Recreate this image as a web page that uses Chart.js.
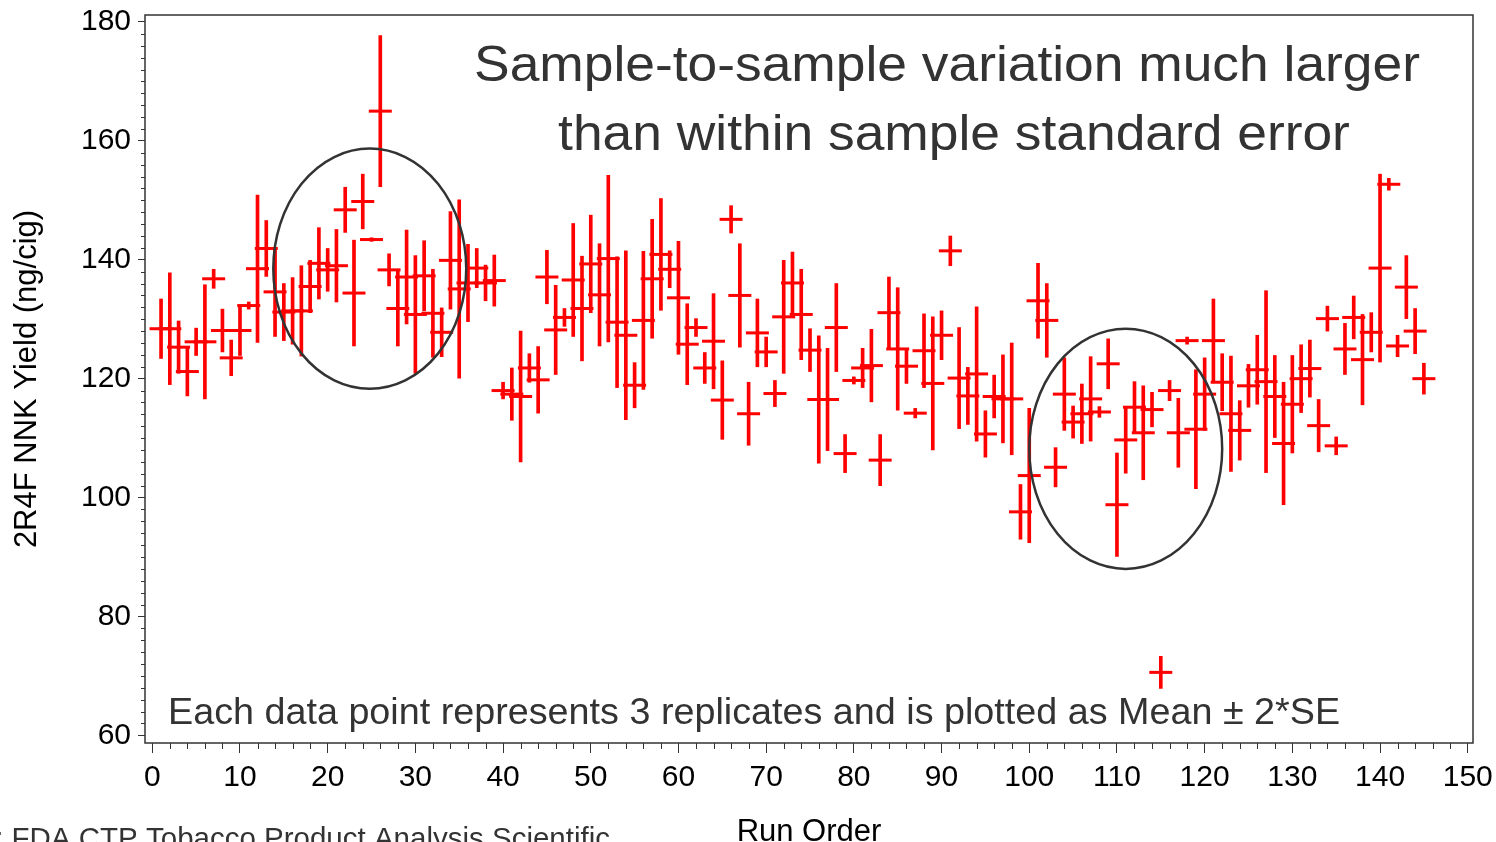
<!DOCTYPE html>
<html>
<head>
<meta charset="utf-8">
<script src="https://cdn.jsdelivr.net/npm/chart.js@4.4.1/dist/chart.umd.min.js"></script>
<style>
  html, body { margin: 0; padding: 0; background: #fff; }
  #wrap { width: 1496px; height: 842px; position: relative; }
</style>
</head>
<body>
<div id="wrap"><canvas id="nnkChart"></canvas></div>
<script>
// run order of each sample (x)
const runOrder = [
  1, 2, 3, 4, 5, 6, 7, 8, 9, 10, 11, 12, 13, 14, 15, 16, 17, 18, 19, 20,
  21, 22, 23, 24, 25, 26, 27, 28, 29, 30, 31, 32, 33, 34, 35, 36, 37, 38, 39, 40,
  41, 42, 43, 44, 45, 46, 47, 48, 49, 50, 51, 52, 53, 54, 55, 56, 57, 58, 59, 60,
  61, 62, 63, 64, 65, 66, 67, 68, 69, 70, 71, 72, 73, 74, 75, 76, 77, 78, 79, 80,
  81, 82, 83, 84, 85, 86, 87, 88, 89, 90, 91, 92, 93, 94, 95, 96, 97, 98, 99, 100,
  101, 102, 103, 104, 105, 106, 107, 108, 109, 110, 111, 112, 113, 114, 115, 116, 117, 118, 119, 120,
  121, 122, 123, 124, 125, 126, 127, 128, 129, 130, 131, 132, 133, 134, 135, 136, 137, 138, 139, 140,
  141, 142, 143, 144, 145
];

// mean of 3 replicates (ng/cig)
const meanYield = [
  128.4, 128.4, 125.3, 121.2, 126.2, 126.2, 136.8, 128.1, 123.5, 128.1,
  132.3, 138.5, 141.9, 134.6, 131.2, 131.4, 131.4, 135.5, 139.4, 138.3,
  139.0, 148.4, 134.4, 149.8, 143.4, 165.0, 138.3, 131.8, 137.1, 130.8,
  137.3, 131.0, 127.8, 139.9, 135.1, 136.1, 138.6, 136.1, 136.5, 118.0,
  117.4, 117.0, 121.8, 119.8, 137.1, 128.2, 130.3, 136.6, 131.8, 139.3,
  134.1, 140.2, 129.5, 127.3, 118.9, 129.8, 136.8, 140.9, 138.4, 133.6,
  125.8, 128.6, 121.8, 126.3, 116.4, 146.8, 134.0, 114.1, 127.7, 124.5,
  117.5, 130.4, 136.1, 130.8, 124.8, 116.5, 116.5, 128.6, 107.4, 119.7,
  121.8, 122.2, 106.3, 131.1, 125.0, 122.1, 114.2, 124.7, 119.2, 127.3,
  141.5, 120.1, 117.1, 120.8, 110.7, 117.0, 116.6, 116.6, 97.6, 103.7,
  133.1, 129.8, 105.1, 117.4, 112.7, 114.1, 116.6, 114.4, 122.5, 98.8,
  109.7, 115.2, 110.9, 114.8, 70.6, 118.0, 110.9, 126.4, 111.5, 117.4,
  126.4, 119.4, 114.1, 111.3, 118.8, 121.5, 119.5, 117.0, 109.1, 115.7,
  120.0, 121.7, 112.1, 130.1, 108.7, 125.0, 130.3, 123.2, 127.8, 138.6,
  152.7, 125.5, 135.4, 128.0, 120.0
];

// 2 * standard error of each mean
const twoSE = [
  5.0, 9.4, 4.4, 4.1, 2.3, 9.6, 1.6, 3.6, 3.0, 4.2,
  0.6, 12.4, 4.7, 7.5, 4.8, 5.6, 7.6, 4.4, 6.0, 3.6,
  6.1, 3.8, 8.9, 4.6, 0.3, 12.7, 2.7, 6.3, 7.9, 9.9,
  5.9, 7.4, 4.1, 8.2, 15.0, 6.5, 3.3, 3.0, 4.3, 1.4,
  4.4, 11.0, 2.4, 5.6, 4.5, 7.5, 1.5, 9.5, 8.8, 8.2,
  8.6, 14.0, 11.0, 14.2, 3.8, 11.6, 10.0, 9.4, 3.1, 9.5,
  6.8, 1.5, 2.6, 8.0, 6.6, 2.3, 8.7, 5.3, 5.7, 2.5,
  2.2, 9.5, 5.2, 7.6, 3.6, 10.7, 8.6, 7.4, 3.2, 0.6,
  3.3, 6.1, 4.3, 6.0, 10.3, 2.9, 0.8, 6.2, 11.2, 4.1,
  2.5, 8.5, 4.8, 11.3, 3.9, 3.6, 7.4, 9.4, 4.6, 11.3,
  6.3, 6.2, 3.3, 6.1, 2.7, 5.0, 7.1, 0.9, 4.2, 8.7,
  5.6, 4.3, 7.9, 2.9, 2.7, 1.7, 5.8, 0.6, 10.0, 6.1,
  7.0, 4.8, 9.7, 5.0, 3.6, 5.8, 15.3, 6.9, 10.3, 8.2,
  5.7, 4.8, 4.4, 2.1, 1.5, 4.3, 3.6, 7.6, 3.3, 15.8,
  1.0, 1.8, 5.3, 3.8, 2.6
];

// circled groups: centre (run order, yield) and radii in data units
const circleCenterX = [24.8, 111.0];
const circleCenterY = [138.5, 108.2];
const circleRadiusX = [11.0, 11.0];
const circleRadiusY = [20.2, 20.2];

const headline = ['Sample-to-sample variation much larger', 'than within sample standard error'];
const footnote = 'Each data point represents 3 replicates and is plotted as Mean \u00b1 2*SE';
const sourceNote = 'Source: FDA CTP Tobacco Product Analysis Scientific';

const FONT = "'Liberation Sans', Arial, Helvetica, sans-serif";

const errorBars = runOrder.map((x, i) => ({ x: x, y: [meanYield[i] - twoSE[i], meanYield[i] + twoSE[i]] }));
const means = runOrder.map((x, i) => ({ x: x, y: meanYield[i] }));

// text drawn a little wider than the font, like the source picture
function wideText(ctx, text, x, y, sx) {
  ctx.save();
  ctx.translate(x, y);
  ctx.scale(sx, 1);
  ctx.fillText(text, 0, 0);
  ctx.restore();
}

const decorations = {
  id: 'decorations',
  afterDatasetsDraw(chart) {
    const { ctx, chartArea: a, scales: { x, y } } = chart;
    ctx.save();

    // minor ticks
    ctx.strokeStyle = '#333';
    ctx.lineWidth = 1;
    ctx.beginPath();
    for (let v = 0; v <= 150; v += 2) {
      if (v % 10 === 0) continue;
      const px = Math.round(x.getPixelForValue(v)) + 0.5;
      ctx.moveTo(px, a.bottom);
      ctx.lineTo(px, a.bottom + 6);
    }
    for (let v = 60; v <= 180; v += 2) {
      if (v % 20 === 0) continue;
      const py = Math.round(y.getPixelForValue(v)) + 0.5;
      ctx.moveTo(a.left, py);
      ctx.lineTo(a.left - 4, py);
    }
    ctx.stroke();

    // frame
    ctx.lineWidth = 1.5;
    ctx.strokeRect(a.left, a.top, a.right - a.left, a.bottom - a.top);

    // circles
    ctx.strokeStyle = '#333';
    ctx.lineWidth = 2.5;
    circleCenterX.forEach((cx, i) => {
      const px = x.getPixelForValue(cx);
      const py = y.getPixelForValue(circleCenterY[i]);
      const rx = Math.abs(x.getPixelForValue(cx + circleRadiusX[i]) - px);
      const ry = Math.abs(y.getPixelForValue(circleCenterY[i] + circleRadiusY[i]) - py);
      ctx.beginPath();
      ctx.ellipse(px, py, rx, ry, 0, 0, Math.PI * 2);
      ctx.stroke();
    });

    // notes
    ctx.fillStyle = '#333';
    ctx.textBaseline = 'alphabetic';
    ctx.textAlign = 'center';
    ctx.font = '50px ' + FONT;
    wideText(ctx, headline[0], 947, 80.5, 1.067);
    wideText(ctx, headline[1], 954, 150, 1.067);
    ctx.textAlign = 'left';
    ctx.font = '36px ' + FONT;
    wideText(ctx, footnote, 168, 723.5, 1.048);
    ctx.textAlign = 'right';
    ctx.font = '29.5px ' + FONT;
    ctx.fillText(sourceNote, 610, 848);
    ctx.restore();
  }
};

new Chart(document.getElementById('nnkChart'), {
  type: 'bar',
  data: {
    datasets: [
      {
        type: 'bar',
        data: errorBars,
        backgroundColor: '#ff0000',
        borderWidth: 0,
        barThickness: 3,
        grouped: false,
        order: 2
      },
      {
        type: 'scatter',
        data: means,
        showLine: false,
        pointStyle: 'line',
        pointRadius: 11.5,
        pointHoverRadius: 11.5,
        borderColor: '#ff0000',
        backgroundColor: '#ff0000',
        pointBorderWidth: 3,
        order: 1
      }
    ]
  },
  options: {
    responsive: true,
    maintainAspectRatio: false,
    animation: false,
    layout: { padding: { left: 0, top: 15, right: 23, bottom: 0 } },
    plugins: {
      legend: { display: false },
      tooltip: { enabled: false }
    },
    scales: {
      x: {
        type: 'linear',
        min: -0.83,
        max: 150.6,
        offset: false,
        afterFit(s) { s.height = 99; s.paddingLeft = 0; s.paddingRight = 0; },
        ticks: { stepSize: 10, includeBounds: false, color: '#000', padding: 7,
                 font: { family: FONT, size: 30 }, maxRotation: 0 },
        grid: { drawOnChartArea: false, tickLength: 10, color: '#333', offset: false },
        border: { display: false },
        title: { display: true, text: 'Run Order', color: '#000',
                 font: { family: FONT, size: 31, lineHeight: 1 }, padding: { top: 0, bottom: -6 } }
      },
      y: {
        type: 'linear',
        min: 58.72,
        max: 181.17,
        beginAtZero: false,
        afterFit(s) { s.width = 145; s.paddingTop = 0; s.paddingBottom = 0; },
        ticks: { stepSize: 20, includeBounds: false, color: '#000', padding: 7,
                 font: { family: FONT, size: 30 } },
        grid: { drawOnChartArea: false, tickLength: 7, color: '#333' },
        border: { display: false },
        title: { display: true, text: '2R4F NNK Yield (ng/cig)', color: '#000',
                 font: { family: FONT, size: 31, lineHeight: 1.2 }, padding: { top: 9, bottom: 0 } }
      }
    }
  },
  plugins: [decorations]
});
</script>
</body>
</html>
